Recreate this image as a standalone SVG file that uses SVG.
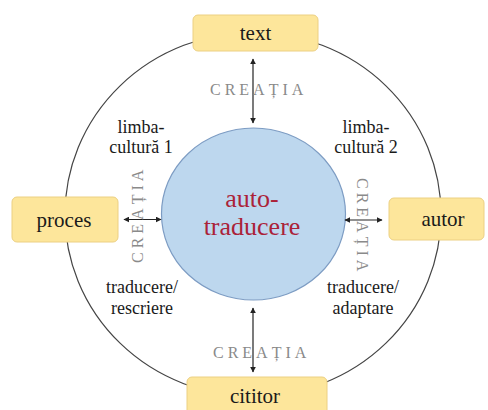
<svg xmlns="http://www.w3.org/2000/svg" width="488" height="410" viewBox="0 0 488 410">
<style>
.box{fill:#fde69b;stroke:#ecd083;stroke-width:1}
.bl{font-family:"Liberation Serif",serif;font-size:21px;fill:#1a1a1a;text-anchor:middle}
.lb{font-family:"Liberation Serif",serif;font-size:18px;fill:#1a1a1a;text-anchor:middle}
.cr{font-family:"Liberation Serif",serif;font-size:16px;fill:#8a8a8a;letter-spacing:4px}
.ar{stroke:#222;stroke-width:1.2;fill:none;marker-start:url(#ah);marker-end:url(#ah)}
</style>
<defs>
<marker id="ah" viewBox="0 0 10 10" refX="9" refY="5" markerWidth="6" markerHeight="6" orient="auto-start-reverse" markerUnits="userSpaceOnUse">
<path d="M0,0 L10,5 L0,10 z" fill="#222"/>
</marker>
</defs>
<rect width="488" height="410" fill="#fff"/>
<g id="outer">
<ellipse cx="253" cy="214.5" rx="188" ry="182" fill="none" stroke="#444" stroke-width="1.2"/>
</g>
<g id="center">
<ellipse cx="253.5" cy="214" rx="92" ry="86" fill="#bdd7ee" stroke="#7d9cc3" stroke-width="1.2"/>
<text class="lb" x="252" y="207" style="font-size:26px;fill:#ab2238">auto-</text>
<text class="lb" x="252" y="235" style="font-size:26px;fill:#ab2238">traducere</text>
</g>
<g id="connectors">
<line class="ar" x1="253" y1="59" x2="253" y2="123"/>
<line class="ar" x1="253" y1="308" x2="253" y2="372"/>
<line class="ar" x1="124" y1="219.5" x2="161" y2="219.5"/>
<line class="ar" x1="345" y1="220" x2="382" y2="220"/>
</g>
<g id="labels">
<text class="cr" x="210" y="95">CREAȚIA</text>
<text class="cr" x="213" y="358">CREAȚIA</text>
<text class="cr" transform="translate(143,263) rotate(-90)">CREAȚIA</text>
<text class="cr" transform="translate(357,178) rotate(90)">CREAȚIA</text>
<text class="lb" x="141" y="133">limba-</text>
<text class="lb" x="141" y="153">cultură 1</text>
<text class="lb" x="366" y="133">limba-</text>
<text class="lb" x="366" y="153">cultură 2</text>
<text class="lb" x="142" y="293">traducere/</text>
<text class="lb" x="142" y="314">rescriere</text>
<text class="lb" x="363" y="293">traducere/</text>
<text class="lb" x="363" y="314">adaptare</text>
</g>
<g id="text-node">
<rect class="box" x="193" y="15" width="125" height="36" rx="5"/>
<text class="bl" x="255.5" y="40">text</text>
</g>
<g id="proces-node">
<rect class="box" x="12" y="197" width="106" height="45" rx="5"/>
<text class="bl" x="64" y="227">proces</text>
</g>
<g id="autor-node">
<rect class="box" x="389" y="198" width="95" height="42" rx="5"/>
<text class="bl" x="443" y="226">autor</text>
</g>
<g id="cititor-node">
<rect class="box" x="187" y="377" width="140" height="40" rx="5"/>
<text class="bl" x="255" y="403">cititor</text>
</g>
</svg>
